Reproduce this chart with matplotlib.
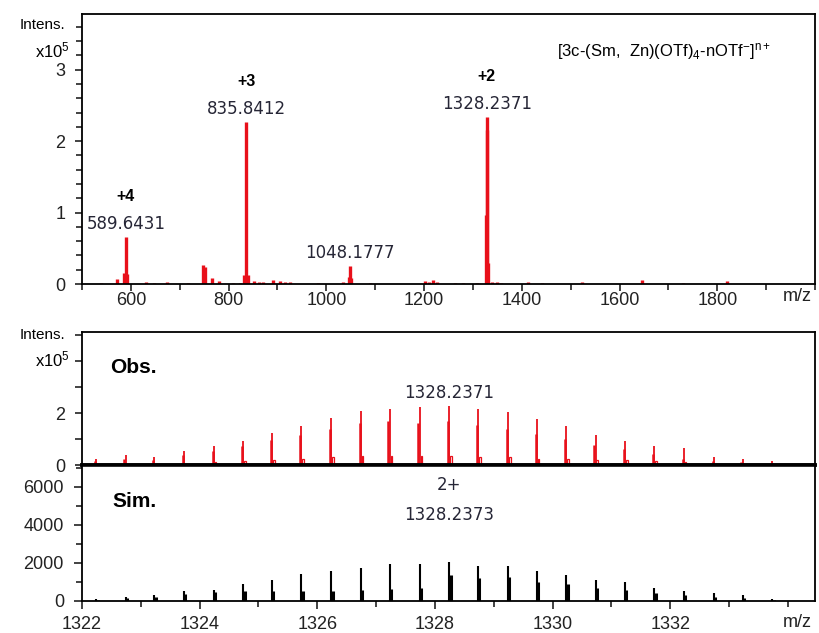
import matplotlib.pyplot as plt
from matplotlib.ticker import MultipleLocator

plt.rcParams['font.family'] = ['Liberation Sans', 'DejaVu Sans']
plt.rcParams['mathtext.fontset'] = 'custom'
plt.rcParams['mathtext.rm'] = 'Liberation Sans'
plt.rcParams['mathtext.it'] = 'Liberation Sans:italic'

# full scan, intensities in units of 1e5
scan_mz = [539, 571, 586, 589.64, 593, 632, 647, 675, 716, 747, 752, 767, 780, 810,
           824, 832, 835.84, 839, 851, 862, 871, 890, 906, 916, 926, 982, 1035, 1046,
           1048.18, 1051, 1090, 1202, 1210, 1218, 1227, 1263, 1280, 1308, 1326.7,
           1328.24, 1329.7, 1331.2, 1340, 1350, 1357, 1412, 1441, 1524, 1647, 1729, 1820]
scan_int = [0.02, 0.07, 0.15, 0.66, 0.14, 0.03, 0.02, 0.03, 0.02, 0.26, 0.24, 0.08, 0.04, 0.02,
            0.02, 0.12, 2.27, 0.12, 0.04, 0.03, 0.03, 0.05, 0.04, 0.03, 0.03, 0.02, 0.03, 0.10,
            0.25, 0.08, 0.02, 0.04, 0.03, 0.05, 0.03, 0.02, 0.02, 0.02, 0.97,
            2.34, 2.15, 0.29, 0.03, 0.03, 0.02, 0.03, 0.02, 0.03, 0.05, 0.02, 0.04]

# labelled peaks: (m/z, height, charge)
peak_mz = [589.6431, 835.8412, 1328.2371, 1048.1777]
peak_int = [0.66, 2.27, 2.34, 0.25]
peak_charge = ['+4', '+3', '+2', '']

# isotope pattern of the 2+ ion
iso_mz = [1322.24, 1322.74, 1323.23, 1323.73, 1324.24, 1324.74, 1325.23, 1325.73,
          1326.24, 1326.74, 1327.23, 1327.74, 1328.24, 1328.73, 1329.24, 1329.73,
          1330.23, 1330.73, 1331.23, 1331.73, 1332.23, 1332.74, 1333.23, 1333.73]
obs_int = [0.23, 0.38, 0.30, 0.53, 0.73, 0.93, 1.24, 1.50, 1.80, 2.07, 2.15, 2.23,
           2.27, 2.15, 2.04, 1.77, 1.50, 1.15, 0.93, 0.73, 0.65, 0.30, 0.23, 0.15]
obs_shoulder = [0.15, 0.25, 0.20, 0.40, 0.55, 0.72, 0.95, 1.15, 1.40, 1.62, 1.68, 1.62,
                1.68, 1.55, 1.38, 1.20, 1.00, 0.78, 0.60, 0.42, 0.25, 0.15, 0.12, 0.08]
obs_tail = [0.05, 0.05, 0.05, 0.05, 0.10, 0.15, 0.20, 0.25, 0.30, 0.35, 0.35, 0.35,
            0.35, 0.30, 0.30, 0.25, 0.25, 0.20, 0.20, 0.15, 0.10, 0.05, 0.05, 0.03]
sim_int = [100, 200, 300, 500, 580, 900, 1100, 1400, 1580, 1750, 1950, 1950,
           2050, 1850, 1830, 1580, 1390, 1100, 1000, 700, 510, 400, 300, 100]
sim_shoulder = [60, 150, 220, 380, 450, 500, 500, 500, 550, 600, 650, 700,
                1350, 1200, 1250, 1000, 900, 700, 600, 400, 300, 200, 150, 50]

num_font = dict(family='DejaVu Sans', fontsize=12, color='#262636')
tick_col = '#222222'
red = '#e8101a'

fig = plt.figure(figsize=(8.19, 6.33), dpi=100)
ax1 = fig.add_axes([0.1001, 0.5513, 0.895, 0.4265])
ax2 = fig.add_axes([0.1001, 0.2654, 0.895, 0.2101])
ax3 = fig.add_axes([0.1001, 0.0506, 0.895, 0.2148])

# --- full spectrum ---
ax1.vlines(scan_mz, 0, scan_int, color=red, lw=2.4)
ax1.set_xlim(500, 2000)
ax1.set_ylim(0, 3.78)
ax1.set_xticks([600, 800, 1000, 1200, 1400, 1600, 1800])
ax1.xaxis.set_minor_locator(MultipleLocator(100))
ax1.set_yticks([0, 1, 2, 3])
ax1.yaxis.set_minor_locator(MultipleLocator(0.2))
ax1.tick_params(axis='x', which='both', direction='out', labelsize=13, pad=1, colors=tick_col)
ax1.tick_params(axis='y', which='both', direction='out', labelsize=13, pad=7, colors=tick_col)
ax1.tick_params(which='major', length=5, width=1.2)
ax1.tick_params(which='minor', length=4, width=1.2)
for mz, h, z in zip(peak_mz, peak_int, peak_charge):
    ax1.text(mz, h + 0.18, f'{mz:.4f}', ha='center', va='center', **num_font)
    if z:
        ax1.text(mz, h + 0.56, z, ha='center', va='center', fontsize=11.5, fontweight='bold')
ax1.text(0.648, 0.86, r'[3c-(Sm,  Zn)(OTf)$_4$-nOTf$^{-}$]$^{\mathrm{n+}}$',
         transform=ax1.transAxes, fontsize=12, va='center')
ax1.text(-0.023, 3.62, 'Intens.', transform=ax1.get_yaxis_transform(),
         ha='right', va='center', fontsize=11)
ax1.text(-0.016, 3.27, r'x10$^5$', transform=ax1.get_yaxis_transform(),
         ha='right', va='center', fontsize=12)
ax1.text(0.995, -0.048, 'm/z', transform=ax1.transAxes, ha='right', va='center',
         fontsize=13, color=tick_col)

# --- observed isotope pattern ---
ax2.vlines([m - 0.02 for m in iso_mz], 0, obs_shoulder, color=red, lw=1.8)
ax2.vlines(iso_mz, 0, obs_int, color=red, lw=1.3)
ax2.bar([m + 0.03 for m in iso_mz], obs_tail, width=0.03, fill=False,
        edgecolor=red, lw=0.9)
ax2.set_xlim(1322, 1334.46)
ax2.set_ylim(0, 5.12)
ax2.set_xticks([])
ax2.set_yticks([0, 2])
ax2.yaxis.set_minor_locator(MultipleLocator(1))
ax2.tick_params(axis='y', which='both', direction='out', labelsize=13, pad=7, colors=tick_col)
ax2.tick_params(which='major', length=5, width=1.2)
ax2.tick_params(which='minor', length=5, width=1.2)
ax2.spines['bottom'].set_linewidth(2.6)
ax2.text(0.038, 0.73, 'Obs.', transform=ax2.transAxes, fontsize=15, fontweight='bold',
         va='center')
ax2.text(1328.2371, 2.77, '1328.2371', ha='center', va='center', **num_font)
ax2.text(-0.023, 5.0, 'Intens.', transform=ax2.get_yaxis_transform(),
         ha='right', va='center', fontsize=11)
ax2.text(-0.016, 4.05, r'x10$^5$', transform=ax2.get_yaxis_transform(),
         ha='right', va='center', fontsize=12)

# --- simulated isotope pattern ---
ax3.vlines([m + 0.025 for m in iso_mz], 0, sim_shoulder, color='black', lw=2.2)
ax3.vlines(iso_mz, 0, sim_int, color='black', lw=1.5)
ax3.set_xlim(1322, 1334.46)
ax3.set_ylim(0, 7150)
ax3.set_xticks([1322, 1324, 1326, 1328, 1330, 1332])
ax3.xaxis.set_minor_locator(MultipleLocator(1))
ax3.set_yticks([0, 2000, 4000, 6000])
ax3.yaxis.set_minor_locator(MultipleLocator(1000))
ax3.tick_params(axis='x', which='both', direction='out', labelsize=13, pad=5, colors=tick_col)
ax3.tick_params(axis='y', which='both', direction='out', labelsize=13, pad=7, colors=tick_col)
ax3.tick_params(which='major', length=6, width=1.2)
ax3.tick_params(which='minor', length=4, width=1.2)
ax3.spines['top'].set_linewidth(2.6)
ax3.text(0.042, 0.73, 'Sim.', transform=ax3.transAxes, fontsize=15, fontweight='bold',
         va='center')
ax3.text(1328.2373, 6100, '2+', ha='center', va='center', **num_font)
ax3.text(1328.2373, 4530, '1328.2373', ha='center', va='center', **num_font)
ax3.text(0.995, -0.16, 'm/z', transform=ax3.transAxes, ha='right', va='center',
         fontsize=13, color=tick_col)

for ax in (ax1, ax2, ax3):
    for s in ax.spines.values():
        if s.get_linewidth() < 2:
            s.set_linewidth(1.3)

fig.savefig('out.png', dpi=100)
